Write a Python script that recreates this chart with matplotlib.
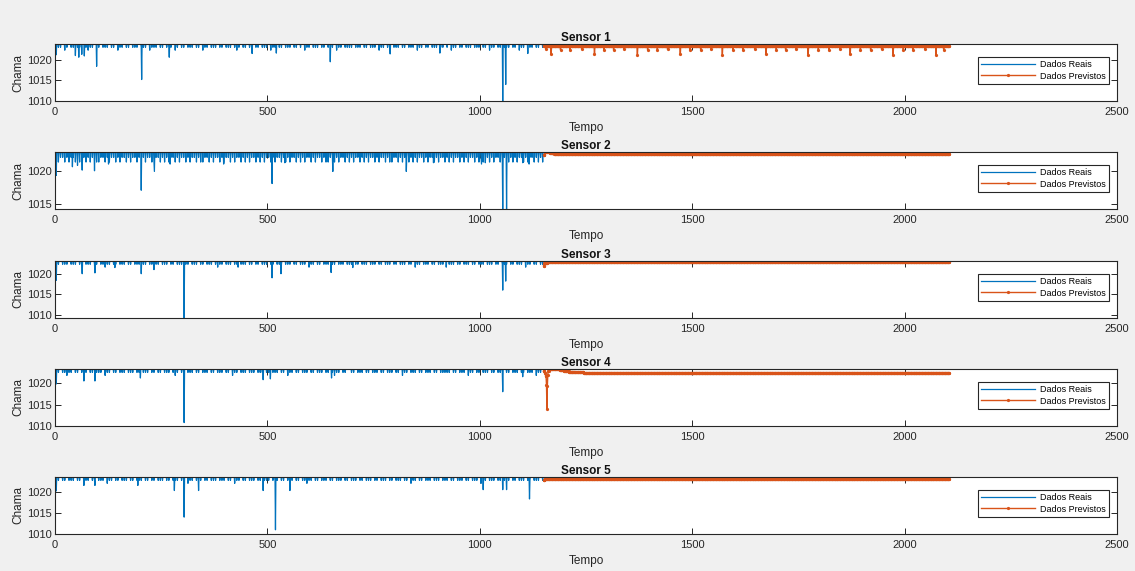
import matplotlib.pyplot as plt
import numpy as np

plt.rcParams['font.family'] = ['Liberation Sans', 'DejaVu Sans']

# --------------------------------------------------------------------------------------------------
# readings: 1150 real samples, forecast from 1150 to 2105
# --------------------------------------------------------------------------------------------------
n_real = 1150
pred_start = 1150
pred_end = 2105

sensors = ['Sensor 1', 'Sensor 2', 'Sensor 3', 'Sensor 4', 'Sensor 5']
top_level = [1023.8, 1022.8, 1023.1, 1023.3, 1023.5]
ylims = [(1010, 1023.8), (1014.3, 1022.8), (1009.2, 1023.1), (1010, 1023.3), (1010, 1023.5)]

# small flicker below the top level, one digit per block of 5 samples
flicker_depth = {'0': 0.0, '1': 0.8, '2': 1.5, '3': 2.2}
flicker_1 = ("0110210110111012110110111011021101101110111021"
             "1101101110210110111011021101110110111012101101"
             "1011011102110110111011010211011101101110211011"
             "1101110110111021101101110110111021101101110110"
             "1021101101110111011021101101110110211011101101")
flicker_2 = ("1211212112121121211221121211212112121121212112"
             "2112121211212112121121221121211212112121121212"
             "1121212112121121212112121211212112122112121121"
             "2121121212112121121221121211212121121211212112"
             "1212112121211212121121211221121212112121121212")
flicker_3 = ("1101110111011011101101121101101110110111011011"
             "0110111011011101101110110111012110111011011101"
             "1011011101101110111011011102110110111011011101"
             "1101101110111011011101101110110211011101101110"
             "0111011011101101110111011011101101110211011011")
flicker_4 = ("1101121101101110110111021101101110111011011101"
             "1011011101210110111011011101101110110211011101"
             "1101110110111011021101101110110111011012110110"
             "0110111011011101101110110211011101101110110111"
             "1101101110211011011101101110110111011011102110")
flicker_5 = ("1101101110110111011011102110110111011011101101"
             "1011101101110110211011101101110111011021101101"
             "1101101110111011011101101121101101110110111011"
             "0111011011101101110110111011021101101110111011"
             "1011011101101110211011101101110110111011011101")

# larger drops (sample index, value)
spikes_1 = [(2, 1021.2), (47, 1021.0), (55, 1020.6), (62, 1021.3), (68, 1020.9), (97, 1018.4),
            (203, 1015.2), (268, 1020.6), (463, 1021.5), (520, 1021.6), (647, 1019.5),
            (788, 1021.4), (905, 1021.6), (1053, 1010.0), (1060, 1014.0), (1112, 1021.5)]
spikes_2 = [(2, 1019.3), (40, 1020.6), (52, 1020.8), (63, 1020.1), (92, 1020.0), (125, 1021.0),
            (202, 1017.1), (233, 1019.9), (270, 1021.0), (396, 1021.0), (510, 1018.1),
            (540, 1021.2), (653, 1019.9), (826, 1019.9), (890, 1021.2), (1003, 1021.0),
            (1012, 1021.2), (1053, 1014.3), (1062, 1014.3), (1100, 1021.2), (1115, 1021.0)]
spikes_3 = [(2, 1018.4), (63, 1020.0), (93, 1020.2), (140, 1021.5), (202, 1020.0), (232, 1021.0),
            (303, 1009.2), (430, 1021.6), (510, 1019.0), (531, 1020.0), (649, 1020.3),
            (700, 1021.5), (920, 1021.6), (1053, 1016.0), (1060, 1018.2)]
spikes_4 = [(2, 1019.8), (67, 1020.5), (93, 1020.5), (200, 1021.2), (303, 1010.8), (489, 1020.8),
            (506, 1021.0), (650, 1021.2), (1053, 1018.0), (1100, 1021.5)]
spikes_5 = [(2, 1020.2), (67, 1021.5), (93, 1021.5), (194, 1021.5), (280, 1020.3), (303, 1014.0),
            (337, 1020.3), (489, 1020.3), (518, 1011.0), (552, 1020.3), (1007, 1020.5),
            (1053, 1020.5), (1062, 1020.5), (1116, 1018.3)]

# forecast as runs of (value, count); None = until the end
pred_runs_1 = [(1023.4, None)]
pred_runs_2 = [(1022.4, 3), (1022.8, 12), (1022.6, 10), (1022.5, None)]
pred_runs_3 = [(1022.0, 2), (1022.6, 8), (1022.8, None)]
pred_runs_4 = [(1022.8, 3), (1022.3, 2), (1021.6, 2), (1019.6, 1), (1014.0, 1), (1019.3, 1),
               (1021.8, 1), (1022.9, 2), (1023.3, 25), (1023.1, 10), (1022.9, 12), (1022.7, 15),
               (1022.55, 20), (1022.45, None)]
pred_runs_5 = [(1022.8, 3), (1023.0, None)]

# forecast drops (time, value)
pred_dips_1 = [(1156, 1022.6), (1168, 1021.4), (1190, 1022.4), (1212, 1022.3), (1240, 1022.5),
               (1270, 1021.3), (1292, 1022.4), (1315, 1022.3), (1340, 1022.5), (1371, 1021.2),
               (1395, 1022.4), (1418, 1022.3), (1442, 1022.5), (1472, 1021.3), (1495, 1022.4),
               (1520, 1022.3), (1545, 1022.6), (1571, 1021.2), (1596, 1022.4), (1620, 1022.3),
               (1648, 1022.5), (1674, 1021.3), (1698, 1022.4), (1720, 1022.3), (1745, 1022.5),
               (1773, 1021.2), (1797, 1022.4), (1822, 1022.3), (1848, 1022.5), (1872, 1021.3),
               (1896, 1022.4), (1920, 1022.3), (1946, 1022.5), (1973, 1021.2), (1997, 1022.4),
               (2020, 1022.3), (2048, 1022.5), (2074, 1021.2), (2092, 1022.4)]
pred_dips_2 = []
pred_dips_3 = []
pred_dips_4 = []
pred_dips_5 = []

flickers = [flicker_1, flicker_2, flicker_3, flicker_4, flicker_5]
spikes = [spikes_1, spikes_2, spikes_3, spikes_4, spikes_5]
pred_runs = [pred_runs_1, pred_runs_2, pred_runs_3, pred_runs_4, pred_runs_5]
pred_dips = [pred_dips_1, pred_dips_2, pred_dips_3, pred_dips_4, pred_dips_5]


def build_real(level, flicker, spike_list):
    y = np.full(n_real, level)
    for k, ch in enumerate(flicker):
        i = 5 * k + 2
        if i < n_real:
            y[i] = level - flicker_depth[ch]
    for i, v in spike_list:
        y[i] = v
    return y


def build_pred(runs, dips):
    n = pred_end - pred_start + 1
    vals = []
    for v, count in runs:
        if count is None:
            count = n - len(vals)
        vals.extend([v] * count)
    y = np.array(vals[:n])
    for t, v in dips:
        y[t - pred_start] = v
    return y


# --------------------------------------------------------------------------------------------------
# figure
# --------------------------------------------------------------------------------------------------
fig = plt.figure(figsize=(11.35, 5.71), dpi=100)
fig.patch.set_facecolor('#f0f0f0')

ax_tops = [44, 152, 261, 369, 477]
ax_h = 57
blue = '#0072bd'
orange = '#d95319'

x_real = np.arange(1, n_real + 1)
x_pred = np.arange(pred_start, pred_end + 1)

for k in range(5):
    ax = fig.add_axes([55 / 1135, 1 - (ax_tops[k] + ax_h) / 571, 1062 / 1135, ax_h / 571])
    y_real = build_real(top_level[k], flickers[k], spikes[k])
    y_pred = build_pred(pred_runs[k], pred_dips[k])

    ax.plot(x_real, y_real, color=blue, lw=0.9, label='Dados Reais')
    ax.plot(x_pred, y_pred, color=orange, lw=1.0, marker='.', ms=2.6, label='Dados Previstos')

    ax.set_xlim(0, 2500)
    ax.set_ylim(*ylims[k])
    ax.set_xticks([0, 500, 1000, 1500, 2000, 2500])
    ax.set_yticks([t for t in (1010, 1015, 1020) if ylims[k][0] <= t <= ylims[k][1]])
    ax.tick_params(direction='in', length=4, width=0.7, top=True, right=True,
                   labelsize=8, colors='#262626', pad=4)
    ax.tick_params(axis='y', pad=2)
    for s in ax.spines.values():
        s.set_linewidth(0.8)
        s.set_color('#262626')

    ax.set_title(sensors[k], fontsize=8.5, fontweight='bold', pad=2, color='#111111')
    ax.set_xlabel('Tempo', fontsize=8.5, labelpad=4, color='#262626')
    ax.set_ylabel('Chama', fontsize=8.5, labelpad=2, color='#262626')

    leg = ax.legend(loc='upper right', bbox_to_anchor=(0.992, 0.77), fontsize=6.5,
                    handlelength=6, numpoints=1, fancybox=False, framealpha=1,
                    borderpad=0.35, labelspacing=0.25, handletextpad=0.5, borderaxespad=0)
    leg.get_frame().set_edgecolor('#262626')
    leg.get_frame().set_linewidth(0.8)

fig.savefig('out.png', dpi=100, facecolor=fig.get_facecolor())
